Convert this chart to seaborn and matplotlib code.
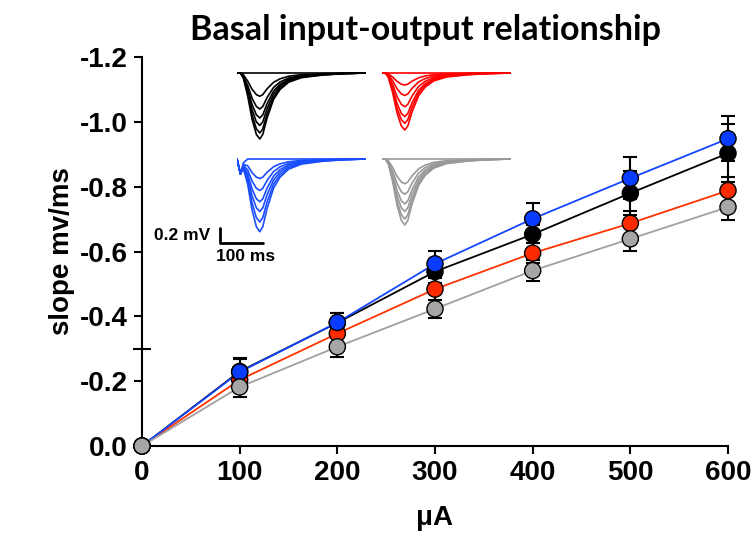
import matplotlib
matplotlib.use('Agg')
import matplotlib.pyplot as plt
from matplotlib.ticker import FixedLocator, FormatStrFormatter
import seaborn as sns
import pandas as pd
import numpy as np

## data
current_uA = [0, 100, 200, 300, 400, 500, 600]
groups = ["black", "red", "blue", "gray"]
group_colours = {"black": "#000000", "red": "#ff2a00", "blue": "#0a3cff", "gray": "#a6a6a6"}
line_colours = {"black": "#000000", "red": "#ff3300", "blue": "#1446ff", "gray": "#a0a0a0"}
trace_colours = {"black": "#000000", "red": "#ff0000", "blue": "#1a4dff", "gray": "#999999"}

slope_black = [0.0, -0.230, -0.380, -0.538, -0.653, -0.780, -0.903]
slope_red = [0.0, -0.204, -0.347, -0.484, -0.595, -0.687, -0.788]
slope_blue = [0.0, -0.228, -0.381, -0.562, -0.701, -0.826, -0.948]
slope_gray = [0.0, -0.182, -0.306, -0.423, -0.541, -0.639, -0.737]

sem_black = [0.0, 0.04, 0.03, 0.035, 0.028, 0.068, 0.09]
sem_red = [0.0, 0.03, 0.03, 0.034, 0.03, 0.037, 0.042]
sem_blue = [0.0, 0.04, 0.03, 0.04, 0.05, 0.065, 0.07]
sem_gray = [0.0, 0.03, 0.03, 0.028, 0.033, 0.036, 0.04]

## inset traces: normalised fEPSP shape + peak amplitudes (mV)
trace_t = [0, 8, 15, 25, 35, 45, 53, 60, 70, 85, 100, 120, 150, 200, 250, 300]
trace_shape = [0, 0, -0.08, -0.35, -0.7, -0.93, -1.0, -0.93, -0.68, -0.4, -0.25, -0.14, -0.07, -0.03, -0.01, 0]
blue_artifact = [0, -0.2, -0.05, 0, 0, 0, 0, 0, 0, 0, 0, 0, 0, 0, 0, 0]
peaks_black = [0.0, 0.31, 0.48, 0.60, 0.70, 0.80, 0.88]
peaks_red = [0.0, 0.16, 0.30, 0.45, 0.58, 0.67, 0.76]
peaks_blue = [0.0, 0.26, 0.42, 0.57, 0.70, 0.84, 0.97]
peaks_gray = [0.0, 0.33, 0.47, 0.60, 0.70, 0.80, 0.88]

slopes = {"black": slope_black, "red": slope_red, "blue": slope_blue, "gray": slope_gray}
sems = {"black": sem_black, "red": sem_red, "blue": sem_blue, "gray": sem_gray}
peaks = {"black": peaks_black, "red": peaks_red, "blue": peaks_blue, "gray": peaks_gray}

rows = []
for g in groups:
    for i in range(len(current_uA)):
        rows.append([g, current_uA[i], slopes[g][i], sems[g][i]])
df = pd.DataFrame(rows, columns=["group", "uA", "slope", "sem"])

sns.set_style("ticks")
plt.rcParams['font.family'] = ['Liberation Sans', 'DejaVu Sans']
plt.rcParams['axes.unicode_minus'] = False
plt.rcParams['text.color'] = 'black'
plt.rcParams['axes.labelcolor'] = 'black'
plt.rcParams['axes.edgecolor'] = 'black'
plt.rcParams['xtick.color'] = 'black'
plt.rcParams['ytick.color'] = 'black'

W, H = 755, 542
fig = plt.figure(figsize=(W/100, H/100), dpi=100)

def px_axes(left, top, w, h):
    return fig.add_axes([left/W, 1-(top+h)/H, w/W, h/H])

ax = px_axes(142, 57, 586, 389)

sns.lineplot(data=df, x="uA", y="slope", hue="group", palette=line_colours,
             hue_order=groups, ax=ax, legend=False, linewidth=1.3, zorder=2)
for g in groups:
    d = df[df["group"] == g]
    ax.errorbar(d["uA"], d["slope"], yerr=d["sem"], fmt='none', ecolor='black',
                elinewidth=1.5, capsize=4.8, capthick=1.5, zorder=3, clip_on=False)
sns.scatterplot(data=df, x="uA", y="slope", hue="group", palette=group_colours,
                hue_order=groups, ax=ax, legend=False, s=135, edgecolor='black',
                linewidth=1.0, zorder=4, clip_on=False)

ax.set_xlim(0, 600)
ax.set_ylim(0, -1.2)
ax.xaxis.set_major_locator(FixedLocator(current_uA))
ax.yaxis.set_major_locator(FixedLocator([0, -0.2, -0.4, -0.6, -0.8, -1.0, -1.2]))
ax.yaxis.set_minor_locator(FixedLocator([-0.3]))
ax.yaxis.set_major_formatter(FormatStrFormatter('%.1f'))
sns.despine(ax=ax)
for sp in ["left", "bottom"]:
    ax.spines[sp].set_linewidth(1.5)
    ax.spines[sp].set_color('black')
ax.tick_params(axis='both', which='major', length=6, width=1.5, labelsize=20, pad=4,
               colors='black')
ax.tick_params(axis='y', which='minor', direction='inout', length=13, width=1.5, colors='black')
for lab in ax.get_xticklabels() + ax.get_yticklabels():
    lab.set_fontweight('bold')
ax.set_xlabel("μA", fontsize=20, fontweight='bold', labelpad=14, color='black')
ax.set_ylabel("slope mv/ms", fontsize=20, fontweight='bold', labelpad=4, color='black')
fig.text(425/W, 1-30/H, "Basal input-output relationship", ha='center', va='center',
         fontsize=24.5, fontweight='bold', family=['Lato', 'DejaVu Sans'], color='black')

## inset traces, 0.43 px/ms and 75 px/mV
inset_pos = {"black": (237, 73), "red": (382, 73), "blue": (237, 159), "gray": (382, 159)}
shape = np.array(trace_shape)
for g in groups:
    left, base = inset_pos[g]
    iax = px_axes(left, base - 0.05*75, 0.43*300, 1.1*75)
    for amp in peaks[g]:
        v = shape*amp
        if g == "blue":
            v = v + np.array(blue_artifact)
        iax.plot(trace_t, v, color=trace_colours[g], lw=1.2)
    iax.set_xlim(0, 300)
    iax.set_ylim(-1.05, 0.05)
    iax.axis('off')
    if g == "blue":
        iax.plot([-40, -40, 60], [-0.92, -1.12, -1.12], color='black', lw=2, clip_on=False)
        iax.text(-62, -1.02, "0.2 mV", ha='right', va='center', fontsize=12.5,
                 fontweight='bold', color='black')
        iax.text(-50, -1.3, "100 ms", ha='left', va='center', fontsize=12.5,
                 fontweight='bold', color='black')

fig.savefig("out.png", dpi=100)
